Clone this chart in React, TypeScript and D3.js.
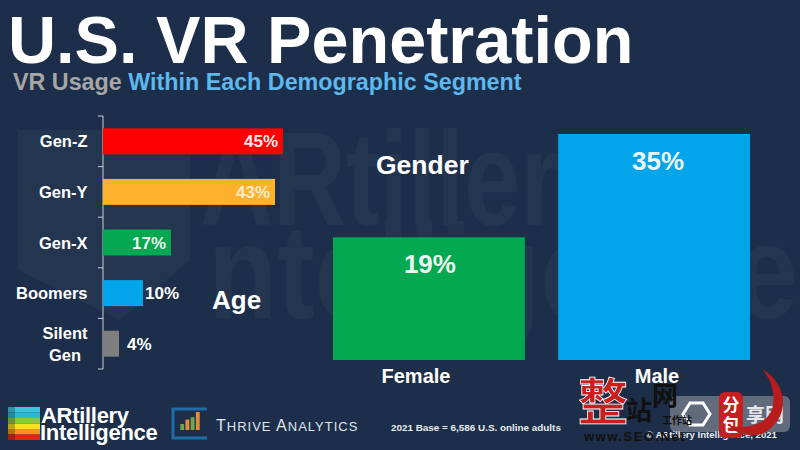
import React from "react";
import * as d3 from "d3";

const ageCategories = ["Gen-Z", "Gen-Y", "Gen-X", "Boomers", "Silent Gen"];
const ageValues = [45, 43, 17, 10, 4];
const ageColors = ["#fe0000", "#fdb12c", "#03a850", "#02a5ea", "#7f7f7f"];
const genderCategories = ["Female", "Male"];
const genderValues = [19, 35];
const genderColors = ["#03a850", "#02a5ea"];
const logoStripes = ["#3fc4dd", "#2fb7d6", "#8cc63f", "#f7e01d", "#f79321", "#e2231a"];
const thriveBars = [8, 14, 17, 24];

const BG = "#1c2e49";
const FONT = "'Liberation Sans', Arial, sans-serif";

const ageX = d3.scaleLinear().domain([0, 45]).range([103, 283]);
const ageY = d3.scaleBand().domain(ageCategories).range([116, 369]).paddingInner(0).paddingOuter(0);
const genderX = d3.scaleBand().domain(genderCategories).range([333, 750]).paddingInner(0.148).paddingOuter(0);
const genderY = d3.scaleLinear().domain([0, 35]).range([360, 134]);

export default function App() {
  React.useEffect(() => {
    document.body.style.margin = "0";
    document.body.style.background = BG;
  }, []);
  const bh = 26;
  const thriveX = d3.scaleBand<number>().domain(d3.range(thriveBars.length)).range([179, 201]).padding(0.25);
  const thriveY = d3.scaleLinear().domain([0, 24]).range([430, 412]);
  return (
    <svg width={800} height={450} viewBox="0 0 800 450" style={{ display: "block", fontFamily: FONT }}>
      <rect width={800} height={450} fill={BG} />
      {/* faint background logo */}
      <g fill="#ffffff" opacity={0.03} fontWeight={700}>
        <text x={200} y={225} fontSize={133} textLength={360} lengthAdjust="spacingAndGlyphs">ARtiller</text>
        <text x={208} y={318} fontSize={133} textLength={590} lengthAdjust="spacingAndGlyphs">ntelligence</text>
        <path d="M18 130H190V260L120 320L18 270Z" />
      </g>

      <text x={8} y={63} fill="#fff" fontSize={66.6} fontWeight={700}>U.S. VR Penetration</text>
      <text x={13} y={90} fontSize={23.3} fontWeight={700}>
        <tspan fill="#a6a6a6">VR Usage </tspan>
        <tspan fill="#5db8ee">Within Each Demographic Segment</tspan>
      </text>

      {/* age axis */}
      <line x1={103} x2={103} y1={116} y2={369} stroke="#c9ced6" strokeWidth={1} />
      {d3.range(6).map((i) => {
        const y = 116 + (i * 253) / 5;
        return <line key={i} x1={98} x2={103} y1={y} y2={y} stroke="#c9ced6" strokeWidth={1} />;
      })}
      {ageCategories.map((c, i) => {
        const cy = (ageY(c) as number) + ageY.bandwidth() / 2;
        const v = ageValues[i];
        const w = ageX(v) - ageX(0);
        const inside = v >= 17;
        return (
          <g key={c}>
            <rect x={ageX(0)} y={cy - bh / 2} width={w} height={bh} fill={ageColors[i]} />
            {c === "Silent Gen" ? (
              <text fill="#fff" fontSize={16.5} fontWeight={700} textAnchor="middle">
                <tspan x={65} y={339}>Silent</tspan>
                <tspan x={65} y={361}>Gen</tspan>
              </text>
            ) : (
              <text x={87.5} y={cy + 6} fill="#fff" fontSize={16.5} fontWeight={700} textAnchor="end">{c}</text>
            )}
            <text
              x={inside ? ageX(v) - 5 : ageX(v) + (v === 4 ? 8 : 2)}
              y={cy + 6}
              fill={v === 43 ? "#fdf0d5" : "#fff"}
              opacity={inside ? 0.92 : 1}
              fontSize={17}
              fontWeight={700}
              textAnchor={inside ? "end" : "start"}
            >
              {v}%
            </text>
          </g>
        );
      })}
      <text x={212} y={309} fill="#fff" fontSize={26} fontWeight={700}>Age</text>

      {/* gender */}
      <text x={376} y={174} fill="#fff" fontSize={26.5} fontWeight={700}>Gender</text>
      {genderCategories.map((c, i) => {
        const x = genderX(c) as number;
        const v = genderValues[i];
        return (
          <g key={c}>
            <rect x={x} y={genderY(v)} width={genderX.bandwidth()} height={genderY(0) - genderY(v)} fill={genderColors[i]} />
            <text x={x + genderX.bandwidth() / 2 + (i ? 4 : 1)} y={genderY(v) + 36} fill="#fff" opacity={0.92} fontSize={26} fontWeight={700} textAnchor="middle">{v}%</text>
            <text x={i ? 657 : 416} y={383} fill="#fff" fontSize={20} fontWeight={700} textAnchor="middle">{c}</text>
          </g>
        );
      })}

      {/* ARtillery logo */}
      <g>
        {logoStripes.map((col, i) => (
          <rect key={i} x={8} y={407 + i * 5.5} width={32} height={5.5} fill={col} />
        ))}
        <rect x={8} y={407} width={7} height={33} fill="#000" opacity={0.25} />
        <text x={41} y={423} fill="#fff" fontSize={22} fontWeight={700} letterSpacing={-0.3}>ARtillery</text>
        <text x={40} y={440} fill="#fff" fontSize={22} fontWeight={700} letterSpacing={-0.3}>Intelligence</text>
      </g>

      {/* Thrive logo */}
      <path d="M207 409H173V438H207" fill="none" stroke="#1f6da8" strokeWidth={3} />
      {thriveBars.map((b, i) => (
        <rect key={i} x={thriveX(i)} y={thriveY(b)} width={thriveX.bandwidth()} height={430 - thriveY(b)} fill={["#6aa84f", "#e58a3a", "#6aa84f", "#e58a3a"][i]} />
      ))}
      <text x={216} y={431} fill="#dfe6ee" fontSize={16} letterSpacing={1}>
        T<tspan fontSize={13}>HRIVE</tspan> A<tspan fontSize={13}>NALYTICS</tspan>
      </text>

      <text x={391} y={431} fill="#e8ebef" fontSize={9.9} fontWeight={700}>2021 Base = 6,586 U.S. online adults</text>
      <text x={646} y={438} fill="#e8ebef" fontSize={9.6} fontWeight={700}>© ARtillery Intelligence, 2021</text>

      {/* overlaid site stamp */}
      <g fontFamily="'Noto Sans CJK SC'" fontWeight={700}>
        <rect x={670} y={396} width={120} height={36} rx={6} fill="#9a9ea6" opacity={0.55} />
        <path d="M690 403L703 403L710 414L703 425L690 425L683 414Z" fill="none" stroke="#fff" strokeWidth={3} />
        <text x={746} y={422} fill="#e5e7ea" fontSize={19}>享网</text>
        <rect x={719} y={392} width={24} height={46} rx={6} fill="#c3201f" />
        <text x={731} y={411} fill="#fff" fontSize={17} textAnchor="middle">分</text>
        <text x={731} y={431} fill="#fff" fontSize={17} textAnchor="middle">包</text>
        <text x={578} y={420} fill="#c8201f" fontSize={50} stroke="#fff" strokeWidth={0.8}>整</text>
        <text x={626} y={420} fill="#101010" fontSize={26}>站</text>
        <text x={652} y={405} fill="#101010" fontSize={26}>网</text>
        <text x={662} y={424} fill="#101010" fontSize={10}>工作站</text>
        <text x={584} y={441} fill="#101010" fontSize={13} fontFamily={FONT} letterSpacing={1.5}>www.SEO.Net</text>
        <path d="M762 369C790 385 790 420 762 434C745 438 735 432 728 425C745 430 770 425 773 405C775 390 770 378 762 369Z" fill="#b81c1c" />
      </g>
    </svg>
  );
}
